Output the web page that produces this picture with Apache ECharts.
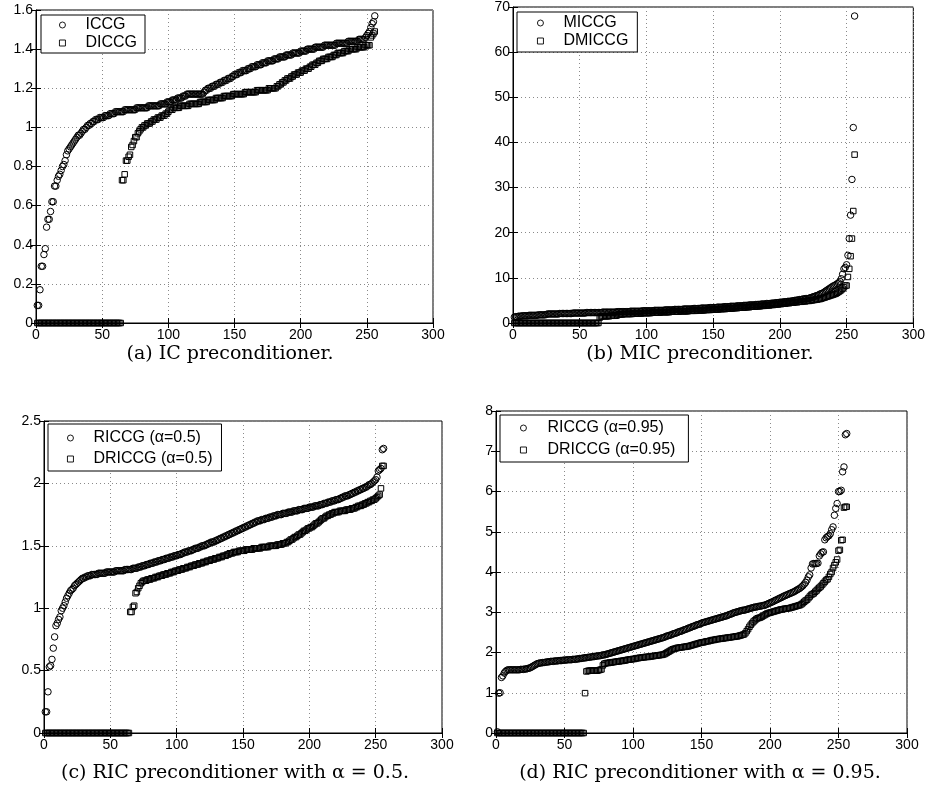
<!DOCTYPE html>
<html><head><meta charset="utf-8">
<script src="https://cdn.jsdelivr.net/npm/echarts@6/dist/echarts.min.js"></script>
<style>html,body{margin:0;padding:0;background:#fff}#c{width:928px;height:800px}</style>
</head><body><div id="c"></div>
<script>
// ---------- data (index 1..256 on x) ----------
const xMax = 300, xStep = 50;
const yMaxA = 1.6, yStepA = 0.2;
const yMaxB = 70, yStepB = 10;
const yMaxC = 2.5, yStepC = 0.5;
const yMaxD = 8, yStepD = 1;

const namesA = ['ICCG', 'DICCG'];
const namesB = ['MICCG', 'DMICCG'];
const namesC = ['RICCG (\u03b1=0.5)', 'DRICCG (\u03b1=0.5)'];
const namesD = ['RICCG (\u03b1=0.95)', 'DRICCG (\u03b1=0.95)'];

const captions = ['(a) IC preconditioner.', '(b) MIC preconditioner.',
  '(c) RIC preconditioner with \u03b1 = 0.5.', '(d) RIC preconditioner with \u03b1 = 0.95.'];

const icY = [
0.09,0.09,0.17,0.29,0.29,0.35,0.38,0.49,0.53,0.53,
0.57,0.62,0.62,0.70,0.70,0.73,0.75,0.76,0.78,0.80,
0.81,0.83,0.86,0.88,0.89,0.90,0.91,0.92,0.93,0.94,
0.95,0.96,0.96,0.97,0.98,0.99,0.99,1.00,1.01,1.01,
1.02,1.02,1.03,1.03,1.04,1.04,1.04,1.05,1.05,1.05,
1.05,1.06,1.06,1.06,1.06,1.07,1.07,1.07,1.07,1.08,
1.08,1.08,1.08,1.08,1.08,1.08,1.09,1.09,1.09,1.09,
1.09,1.09,1.09,1.09,1.09,1.10,1.10,1.10,1.10,1.10,
1.10,1.10,1.10,1.10,1.11,1.11,1.11,1.11,1.11,1.11,
1.11,1.11,1.11,1.12,1.12,1.12,1.12,1.12,1.13,1.13,
1.13,1.13,1.14,1.14,1.14,1.14,1.15,1.15,1.15,1.15,
1.16,1.16,1.16,1.17,1.17,1.17,1.17,1.17,1.17,1.17,
1.17,1.17,1.17,1.17,1.17,1.17,1.18,1.19,1.19,1.20,
1.20,1.20,1.21,1.21,1.21,1.22,1.22,1.22,1.23,1.23,
1.23,1.24,1.24,1.24,1.25,1.25,1.25,1.26,1.26,1.27,
1.27,1.27,1.28,1.28,1.28,1.29,1.29,1.29,1.29,1.30,
1.30,1.30,1.31,1.31,1.31,1.31,1.32,1.32,1.32,1.32,
1.33,1.33,1.33,1.33,1.34,1.34,1.34,1.34,1.34,1.35,
1.35,1.35,1.35,1.36,1.36,1.36,1.36,1.36,1.37,1.37,
1.37,1.37,1.37,1.38,1.38,1.38,1.38,1.38,1.38,1.39,
1.39,1.39,1.39,1.39,1.40,1.40,1.40,1.40,1.40,1.40,
1.41,1.41,1.41,1.41,1.41,1.41,1.41,1.42,1.42,1.42,
1.42,1.42,1.42,1.42,1.42,1.42,1.43,1.43,1.43,1.43,
1.43,1.43,1.43,1.43,1.43,1.44,1.44,1.44,1.44,1.44,
1.44,1.44,1.44,1.45,1.45,1.45,1.45,1.45,1.46,1.47,
1.48,1.49,1.51,1.53,1.54,1.57];

const dicY = [
0,0,0,0,0,0,0,0,0,0,
0,0,0,0,0,0,0,0,0,0,
0,0,0,0,0,0,0,0,0,0,
0,0,0,0,0,0,0,0,0,0,
0,0,0,0,0,0,0,0,0,0,
0,0,0,0,0,0,0,0,0,0,
0,0,0,0,0.73,0.73,0.76,0.83,0.83,0.85,
0.86,0.90,0.91,0.93,0.95,0.95,0.97,0.98,0.99,1.00,
1.00,1.01,1.01,1.02,1.02,1.02,1.03,1.03,1.04,1.04,
1.04,1.05,1.05,1.05,1.06,1.06,1.06,1.07,1.07,1.08,
1.09,1.09,1.09,1.10,1.10,1.10,1.10,1.10,1.11,1.11,
1.11,1.11,1.11,1.11,1.11,1.12,1.12,1.12,1.12,1.12,
1.12,1.12,1.12,1.13,1.13,1.13,1.13,1.13,1.13,1.14,
1.14,1.14,1.14,1.14,1.14,1.15,1.15,1.15,1.15,1.15,
1.15,1.16,1.16,1.16,1.16,1.16,1.16,1.16,1.17,1.17,
1.17,1.17,1.17,1.17,1.17,1.17,1.17,1.18,1.18,1.18,
1.18,1.18,1.18,1.18,1.18,1.18,1.19,1.19,1.19,1.19,
1.19,1.19,1.19,1.19,1.19,1.20,1.20,1.20,1.20,1.20,
1.20,1.21,1.21,1.22,1.22,1.23,1.23,1.24,1.24,1.25,
1.25,1.25,1.26,1.26,1.27,1.27,1.27,1.28,1.28,1.28,
1.29,1.29,1.29,1.30,1.30,1.30,1.31,1.31,1.32,1.32,
1.32,1.33,1.33,1.34,1.34,1.34,1.35,1.35,1.35,1.35,
1.36,1.36,1.36,1.36,1.37,1.37,1.37,1.38,1.38,1.38,
1.38,1.38,1.39,1.39,1.39,1.39,1.40,1.40,1.40,1.40,
1.40,1.40,1.41,1.41,1.41,1.41,1.41,1.41,1.42,1.42,
1.42,1.42,1.46,1.47,1.48,1.49];

const micY = [
1.3,1.4,1.4,1.5,1.5,1.5,1.6,1.6,1.6,1.6,
1.6,1.7,1.7,1.7,1.7,1.7,1.7,1.7,1.8,1.8,
1.8,1.8,1.8,1.8,1.9,2.0,2.0,2.0,2.0,2.0,
2.0,2.0,2.0,2.0,2.1,2.1,2.1,2.1,2.1,2.1,
2.1,2.1,2.1,2.1,2.2,2.2,2.2,2.2,2.2,2.2,
2.2,2.2,2.2,2.2,2.3,2.3,2.3,2.3,2.3,2.3,
2.3,2.3,2.3,2.3,2.3,2.3,2.4,2.4,2.4,2.4,
2.4,2.4,2.4,2.4,2.4,2.4,2.4,2.5,2.5,2.5,
2.5,2.5,2.5,2.5,2.5,2.5,2.5,2.6,2.6,2.6,
2.6,2.6,2.6,2.6,2.6,2.6,2.7,2.7,2.7,2.7,
2.7,2.7,2.7,2.7,2.7,2.8,2.8,2.8,2.8,2.8,
2.8,2.8,2.8,2.9,2.9,2.9,2.9,2.9,2.9,2.9,
3.0,3.0,3.0,3.0,3.0,3.0,3.0,3.1,3.1,3.1,
3.1,3.1,3.1,3.1,3.2,3.2,3.2,3.2,3.2,3.2,
3.3,3.3,3.3,3.3,3.3,3.3,3.4,3.4,3.4,3.4,
3.4,3.4,3.5,3.5,3.5,3.5,3.5,3.6,3.6,3.6,
3.6,3.6,3.7,3.7,3.7,3.7,3.7,3.8,3.8,3.8,
3.8,3.8,3.9,3.9,3.9,3.9,4.0,4.0,4.0,4.0,
4.0,4.1,4.1,4.1,4.1,4.2,4.2,4.2,4.2,4.3,
4.3,4.3,4.3,4.4,4.4,4.4,4.5,4.5,4.5,4.6,
4.6,4.6,4.7,4.7,4.7,4.8,4.8,4.8,4.9,4.9,
5.0,5.0,5.1,5.1,5.2,5.2,5.3,5.3,5.4,5.4,
5.4,5.5,5.6,5.7,5.8,5.9,6.0,6.1,6.2,6.4,
6.5,6.6,6.8,7.0,7.2,7.4,7.6,7.8,8.0,8.2,
8.3,8.5,8.7,8.9,9.2,9.8,10.8,12.0,12.3,12.9,
15.0,18.7,23.9,31.8,43.3,68.0];

const dmicY = [
0,0,0,0,0,0,0,0,0,0,
0,0,0,0,0,0,0,0,0,0,
0,0,0,0,0,0,0,0,0,0,
0,0,0,0,0,0,0,0,0,0,
0,0,0,0,0,0,0,0,0,0,
0,0,0,0,0,0,0,0,0,0,
0,0,0,0,1.2,1.4,1.5,1.5,1.5,1.5,
1.5,1.5,1.6,1.6,1.6,1.6,1.6,1.7,1.9,1.9,
1.9,1.9,2.0,2.0,2.0,2.0,2.0,2.0,2.0,2.1,
2.1,2.1,2.1,2.1,2.1,2.1,2.2,2.2,2.2,2.2,
2.2,2.2,2.2,2.3,2.3,2.3,2.3,2.3,2.3,2.3,
2.4,2.4,2.4,2.4,2.4,2.4,2.4,2.5,2.5,2.5,
2.5,2.5,2.5,2.5,2.6,2.6,2.6,2.6,2.6,2.6,
2.6,2.7,2.7,2.7,2.7,2.7,2.7,2.8,2.8,2.8,
2.8,2.8,2.8,2.9,2.9,2.9,2.9,2.9,3.0,3.0,
3.0,3.0,3.0,3.0,3.1,3.1,3.1,3.1,3.1,3.2,
3.2,3.2,3.2,3.2,3.3,3.3,3.3,3.3,3.4,3.4,
3.4,3.4,3.4,3.5,3.5,3.5,3.5,3.6,3.6,3.6,
3.6,3.7,3.7,3.7,3.7,3.8,3.8,3.8,3.9,3.9,
3.9,3.9,4.0,4.0,4.0,4.1,4.1,4.1,4.2,4.2,
4.2,4.3,4.3,4.3,4.4,4.4,4.4,4.5,4.5,4.5,
4.6,4.6,4.6,4.7,4.7,4.7,4.8,4.8,4.8,4.9,
4.9,4.9,5.0,5.0,5.1,5.1,5.2,5.2,5.3,5.3,
5.4,5.5,5.6,5.7,5.8,5.9,6.0,6.1,6.2,6.3,
6.4,6.5,6.7,6.9,7.1,7.3,7.6,7.9,8.3,8.3,
10.2,12.0,14.8,18.7,24.8,37.3];

const ric5Y = [
0.17,0.17,0.33,0.53,0.54,0.59,0.68,0.77,0.86,0.88,
0.91,0.93,0.98,1.00,1.02,1.05,1.08,1.10,1.12,1.14,
1.15,1.16,1.18,1.19,1.20,1.21,1.22,1.23,1.24,1.24,
1.25,1.25,1.26,1.26,1.26,1.27,1.27,1.27,1.27,1.27,
1.28,1.28,1.28,1.28,1.28,1.28,1.29,1.29,1.29,1.29,
1.29,1.29,1.29,1.30,1.30,1.30,1.30,1.30,1.30,1.30,
1.31,1.31,1.31,1.31,1.31,1.31,1.32,1.32,1.32,1.32,
1.33,1.33,1.33,1.34,1.34,1.34,1.35,1.35,1.35,1.36,
1.36,1.36,1.37,1.37,1.37,1.38,1.38,1.38,1.39,1.39,
1.39,1.40,1.40,1.40,1.41,1.41,1.41,1.42,1.42,1.42,
1.43,1.43,1.43,1.44,1.44,1.45,1.45,1.45,1.46,1.46,
1.46,1.47,1.47,1.48,1.48,1.48,1.49,1.49,1.50,1.50,
1.50,1.51,1.51,1.52,1.52,1.53,1.53,1.53,1.54,1.54,
1.55,1.55,1.56,1.56,1.57,1.57,1.58,1.58,1.59,1.59,
1.60,1.60,1.61,1.61,1.62,1.62,1.63,1.63,1.64,1.64,
1.65,1.65,1.66,1.66,1.67,1.67,1.68,1.68,1.69,1.69,
1.70,1.70,1.70,1.71,1.71,1.71,1.72,1.72,1.72,1.73,
1.73,1.73,1.74,1.74,1.74,1.75,1.75,1.75,1.75,1.76,
1.76,1.76,1.76,1.77,1.77,1.77,1.77,1.78,1.78,1.78,
1.78,1.79,1.79,1.79,1.79,1.80,1.80,1.80,1.80,1.81,
1.81,1.81,1.81,1.82,1.82,1.82,1.82,1.83,1.83,1.83,
1.84,1.84,1.84,1.85,1.85,1.85,1.86,1.86,1.86,1.87,
1.87,1.87,1.88,1.88,1.89,1.89,1.90,1.90,1.90,1.91,
1.91,1.92,1.92,1.93,1.93,1.94,1.94,1.95,1.95,1.96,
1.96,1.97,1.97,1.98,1.99,1.99,2.00,2.01,2.02,2.03,
2.05,2.10,2.11,2.12,2.27,2.28];

const dric5Y = [
0,0,0,0,0,0,0,0,0,0,
0,0,0,0,0,0,0,0,0,0,
0,0,0,0,0,0,0,0,0,0,
0,0,0,0,0,0,0,0,0,0,
0,0,0,0,0,0,0,0,0,0,
0,0,0,0,0,0,0,0,0,0,
0,0,0,0,0.97,0.97,1.01,1.02,1.12,1.13,
1.16,1.18,1.20,1.21,1.22,1.22,1.22,1.23,1.23,1.23,
1.24,1.24,1.24,1.25,1.25,1.25,1.26,1.26,1.26,1.27,
1.27,1.27,1.28,1.28,1.28,1.29,1.29,1.29,1.30,1.30,
1.30,1.31,1.31,1.31,1.32,1.32,1.32,1.33,1.33,1.33,
1.34,1.34,1.34,1.35,1.35,1.35,1.36,1.36,1.36,1.37,
1.37,1.37,1.38,1.38,1.38,1.39,1.39,1.39,1.40,1.40,
1.40,1.41,1.41,1.41,1.42,1.42,1.42,1.43,1.43,1.44,
1.44,1.44,1.45,1.45,1.45,1.45,1.46,1.46,1.46,1.46,
1.46,1.47,1.47,1.47,1.47,1.47,1.47,1.48,1.48,1.48,
1.48,1.48,1.48,1.49,1.49,1.49,1.49,1.49,1.49,1.50,
1.50,1.50,1.50,1.50,1.50,1.51,1.51,1.51,1.51,1.52,
1.52,1.52,1.53,1.53,1.54,1.55,1.55,1.56,1.57,1.57,
1.58,1.59,1.59,1.60,1.61,1.62,1.62,1.63,1.64,1.64,
1.65,1.65,1.66,1.67,1.68,1.68,1.69,1.70,1.71,1.72,
1.72,1.73,1.74,1.74,1.75,1.75,1.76,1.76,1.77,1.77,
1.77,1.77,1.78,1.78,1.78,1.78,1.78,1.79,1.79,1.79,
1.79,1.80,1.80,1.80,1.81,1.81,1.82,1.82,1.82,1.83,
1.83,1.84,1.84,1.85,1.85,1.86,1.86,1.87,1.87,1.88,
1.89,1.90,1.91,1.96,2.14,2.14];

const ric95Y = [
0.03,0.99,1.00,1.38,1.42,1.49,1.53,1.56,1.57,1.57,
1.57,1.57,1.57,1.57,1.57,1.57,1.57,1.58,1.58,1.58,
1.59,1.59,1.60,1.61,1.62,1.64,1.66,1.68,1.70,1.72,
1.73,1.74,1.74,1.75,1.75,1.76,1.76,1.77,1.77,1.78,
1.78,1.78,1.79,1.79,1.79,1.80,1.80,1.80,1.81,1.81,
1.81,1.82,1.82,1.82,1.82,1.83,1.83,1.83,1.84,1.84,
1.85,1.85,1.86,1.86,1.87,1.87,1.88,1.88,1.89,1.89,
1.90,1.90,1.91,1.91,1.92,1.92,1.93,1.94,1.94,1.95,
1.96,1.97,1.98,1.99,2.00,2.01,2.02,2.03,2.04,2.05,
2.06,2.07,2.08,2.09,2.10,2.11,2.12,2.13,2.14,2.15,
2.16,2.17,2.18,2.19,2.20,2.21,2.22,2.23,2.24,2.25,
2.26,2.27,2.28,2.29,2.30,2.31,2.32,2.33,2.34,2.35,
2.36,2.37,2.38,2.40,2.41,2.42,2.43,2.44,2.46,2.47,
2.48,2.49,2.51,2.52,2.53,2.54,2.56,2.57,2.58,2.60,
2.61,2.62,2.64,2.65,2.66,2.68,2.69,2.70,2.71,2.73,
2.74,2.75,2.76,2.77,2.78,2.79,2.80,2.81,2.82,2.83,
2.84,2.85,2.86,2.87,2.88,2.89,2.90,2.91,2.92,2.94,
2.95,2.96,2.98,2.99,3.00,3.01,3.02,3.03,3.04,3.05,
3.05,3.06,3.07,3.08,3.09,3.10,3.11,3.12,3.13,3.13,
3.14,3.15,3.15,3.16,3.17,3.17,3.19,3.20,3.22,3.23,
3.25,3.26,3.28,3.30,3.31,3.33,3.35,3.36,3.38,3.40,
3.41,3.43,3.44,3.46,3.47,3.49,3.50,3.52,3.54,3.56,
3.58,3.60,3.63,3.66,3.70,3.74,3.80,3.88,3.93,4.10,
4.20,4.21,4.21,4.21,4.22,4.40,4.45,4.49,4.50,4.80,
4.85,4.88,4.90,4.95,5.05,5.12,5.41,5.58,5.70,6.00,
6.00,6.03,6.49,6.61,7.41,7.44];

const dric95Y = [
0,0,0,0,0,0,0,0,0,0,
0,0,0,0,0,0,0,0,0,0,
0,0,0,0,0,0,0,0,0,0,
0,0,0,0,0,0,0,0,0,0,
0,0,0,0,0,0,0,0,0,0,
0,0,0,0,0,0,0,0,0,0,
0,0,0,0,0.99,1.53,1.54,1.55,1.55,1.55,
1.55,1.55,1.55,1.55,1.56,1.57,1.58,1.68,1.72,1.73,
1.74,1.74,1.75,1.75,1.76,1.76,1.77,1.77,1.78,1.78,
1.79,1.79,1.80,1.80,1.81,1.82,1.82,1.83,1.83,1.84,
1.84,1.85,1.86,1.86,1.87,1.87,1.88,1.88,1.89,1.89,
1.89,1.90,1.90,1.91,1.91,1.92,1.92,1.93,1.93,1.94,
1.94,1.95,1.96,1.98,2.00,2.02,2.04,2.06,2.08,2.09,
2.10,2.11,2.12,2.12,2.13,2.13,2.14,2.14,2.15,2.15,
2.16,2.17,2.18,2.19,2.20,2.21,2.22,2.23,2.24,2.25,
2.25,2.26,2.27,2.28,2.28,2.29,2.30,2.31,2.31,2.32,
2.33,2.33,2.34,2.34,2.35,2.35,2.36,2.36,2.37,2.37,
2.38,2.38,2.39,2.39,2.40,2.40,2.41,2.42,2.43,2.44,
2.45,2.48,2.53,2.58,2.64,2.69,2.73,2.77,2.80,2.83,
2.85,2.86,2.87,2.89,2.91,2.93,2.95,2.97,2.98,2.99,
3.00,3.01,3.02,3.03,3.04,3.05,3.06,3.07,3.07,3.08,
3.09,3.09,3.10,3.10,3.11,3.12,3.13,3.14,3.15,3.16,
3.17,3.18,3.20,3.23,3.26,3.29,3.31,3.35,3.39,3.43,
3.45,3.47,3.51,3.54,3.58,3.61,3.64,3.68,3.72,3.76,
3.80,3.82,3.88,3.95,4.00,4.10,4.17,4.24,4.31,4.53,
4.55,4.79,4.80,5.60,5.62,5.62];

// ---------- layout ----------
const panels = [
  { grid: {left: 36, top: 10, width: 397, height: 313}, yMax: yMaxA, yStep: yStepA, names: namesA, ys: [icY, dicY],
    legend: {left: 41, top: 15, padding: [2, 8, 2, 18], itemGap: 2}, textPad: 15, cap: [230, 354] },
  { grid: {left: 513, top: 7, width: 401, height: 316}, yMax: yMaxB, yStep: yStepB, names: namesB, ys: [micY, dmicY],
    legend: {left: 517, top: 12, padding: [3, 9, 3, 20], itemGap: 2}, textPad: 15, cap: [700, 354] },
  { grid: {left: 44, top: 421, width: 398, height: 312}, yMax: yMaxC, yStep: yStepC, names: namesC, ys: [ric5Y, dric5Y],
    legend: {left: 48, top: 424, padding: [6, 9, 4, 19], itemGap: 5}, textPad: 15, cap: [235, 773] },
  { grid: {left: 496, top: 411, width: 411, height: 322}, yMax: yMaxD, yStep: yStepD, names: namesD, ys: [ric95Y, dric95Y],
    legend: {left: 500, top: 415, padding: [5, 13, 4, 20], itemGap: 6}, textPad: 16, cap: [700, 773] }
];

const FONT = 'Liberation Sans';
const grids = [], xAxes = [], yAxes = [], series = [], legends = [], graphics = [];
const dotted = {show: true, lineStyle: {color: '#8a8a8a', width: 1, type: [1, 3]}};

panels.forEach((p, k) => {
  grids.push(Object.assign({show: true, borderColor: '#000', borderWidth: 1, backgroundColor: '#fff'}, p.grid));
  xAxes.push({type: 'value', gridIndex: k, min: 0, max: xMax, interval: xStep, position: 'bottom',
    axisLine: {show: true, onZero: false, lineStyle: {color: '#000', width: 1}},
    axisTick: {show: true, inside: true, length: 5, lineStyle: {color: '#000'}},
    axisLabel: {color: '#000', fontFamily: FONT, fontSize: 14, margin: 5},
    splitLine: dotted});
  yAxes.push({type: 'value', gridIndex: k, min: 0, max: p.yMax, interval: p.yStep, position: 'left',
    axisLine: {show: true, onZero: false, lineStyle: {color: '#000', width: 1}},
    axisTick: {show: true, inside: true, length: 5, lineStyle: {color: '#000'}},
    axisLabel: {color: '#000', fontFamily: FONT, fontSize: 14, margin: 3},
    splitLine: dotted});
  xAxes.push({type: 'value', gridIndex: k, min: 0, max: xMax, interval: xStep, position: 'top',
    axisLine: {show: false}, axisLabel: {show: false}, splitLine: {show: false},
    axisTick: {show: true, inside: true, length: 5, lineStyle: {color: '#000'}}});
  yAxes.push({type: 'value', gridIndex: k, min: 0, max: p.yMax, interval: p.yStep, position: 'right',
    axisLine: {show: false}, axisLabel: {show: false}, splitLine: {show: false},
    axisTick: {show: true, inside: true, length: 5, lineStyle: {color: '#000'}}});

  const symbols = ['circle', 'rect'];
  const sizes = [6.5, 5.5];
  p.ys.forEach((arr, j) => {
    series.push({
      type: 'scatter', name: p.names[j], xAxisIndex: 2 * k, yAxisIndex: 2 * k,
      symbol: symbols[j], symbolSize: sizes[j], clip: false, silent: true, animation: false,
      itemStyle: {color: 'rgba(0,0,0,0)', borderColor: '#000', borderWidth: 1, opacity: 1},
      data: arr.map((v, i) => [i + 1, v]), z: 3
    });
  });

  legends.push(Object.assign({
    orient: 'vertical', data: p.names, selectedMode: false, itemWidth: 6, itemHeight: 6,
    borderColor: '#000', borderWidth: 1, borderRadius: 0, backgroundColor: '#fff',
    textStyle: {color: '#000', fontFamily: FONT, fontSize: 16, padding: [0, 0, 0, p.textPad]},
    itemStyle: {color: 'rgba(0,0,0,0)', borderColor: '#000', borderWidth: 0.9},
    z: 10
  }, p.legend));

  graphics.push({type: 'text', x: p.cap[0], y: p.cap[1], z: 10,
    style: {text: captions[k], fill: '#000', font: '19px "DejaVu Serif"', align: 'center', verticalAlign: 'middle',
      textAlign: 'center', textVerticalAlign: 'middle'}});
});

const chart = echarts.init(document.getElementById('c'), null, {renderer: 'canvas'});
chart.setOption({
  animation: false, backgroundColor: '#fff',
  grid: grids, xAxis: xAxes, yAxis: yAxes, series: series, legend: legends, graphic: graphics
});
</script>
</body></html>
